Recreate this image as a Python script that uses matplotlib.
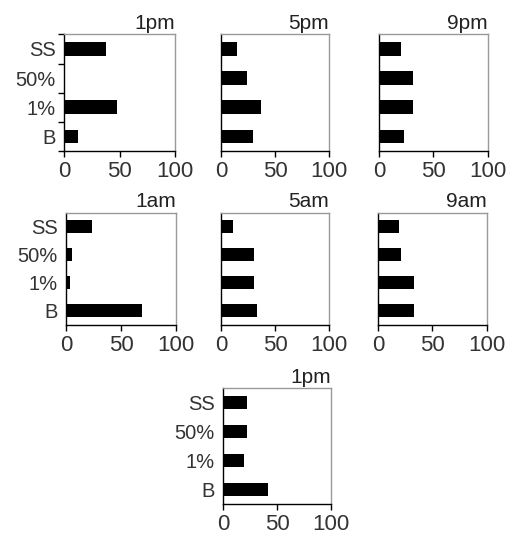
import matplotlib
matplotlib.use("Agg")
import matplotlib.pyplot as plt

plt.rcParams["font.family"] = ["Liberation Sans", "DejaVu Sans"]

categories = ["B", "1%", "50%", "SS"]
titles = ["1pm", "5pm", "9pm", "1am", "5am", "9am", "1pm"]
# values listed bottom-to-top: B, 1%, 50%, SS
values = [
    [13, 48, 0, 38],
    [29, 37, 24, 15],
    [23, 31, 31, 20],
    [69, 4, 5, 24],
    [33, 30, 30, 11],
    [33, 33, 21, 19],
    [41, 19, 22, 22],
]
xticks = [0, 50, 100]

# axes rectangles in figure fractions (left, bottom, width, height)
rects = [
    (0.125, 0.718, 0.217, 0.218),
    (0.432, 0.718, 0.211, 0.218),
    (0.740, 0.718, 0.213, 0.218),
    (0.129, 0.394, 0.215, 0.209),
    (0.432, 0.394, 0.211, 0.209),
    (0.738, 0.394, 0.213, 0.209),
    (0.436, 0.060, 0.211, 0.216),
]
show_ylabels = [True, False, False, True, False, False, True]

fig = plt.figure(figsize=(5.12, 5.36), dpi=100)

for i, (title, vals, rect, show_y) in enumerate(zip(titles, values, rects, show_ylabels)):
    ax = fig.add_axes(rect)
    ax.barh(range(len(categories)), vals, height=0.47, color="black")
    ax.set_xlim(0, 100)
    ax.set_ylim(-0.5, 3.5)
    ax.set_xticks(xticks)
    ax.tick_params(axis="x", labelsize=16, labelcolor="#333333",
                   length=4, width=1, direction="out", pad=3)
    ax.set_yticks(range(len(categories)))
    if show_y:
        ax.set_yticklabels(categories)
        ax.tick_params(axis="y", labelsize=14.5, labelcolor="#333333",
                       length=0, pad=6)
        if i == 0:
            ax.set_yticks([-0.5, 0.5, 1.5, 2.5, 3.5], minor=True)
            ax.tick_params(axis="y", which="minor", length=4, width=1)
    else:
        ax.set_yticklabels([])
        ax.tick_params(axis="y", length=0)
    for side in ["top", "right"]:
        ax.spines[side].set_color("#999999")
        ax.spines[side].set_linewidth(1)
    for side in ["left", "bottom"]:
        ax.spines[side].set_color("black")
        ax.spines[side].set_linewidth(1)
    ax.set_title(title, loc="right", fontsize=15, color="#222222", pad=4)

fig.savefig("out.png", dpi=100)
